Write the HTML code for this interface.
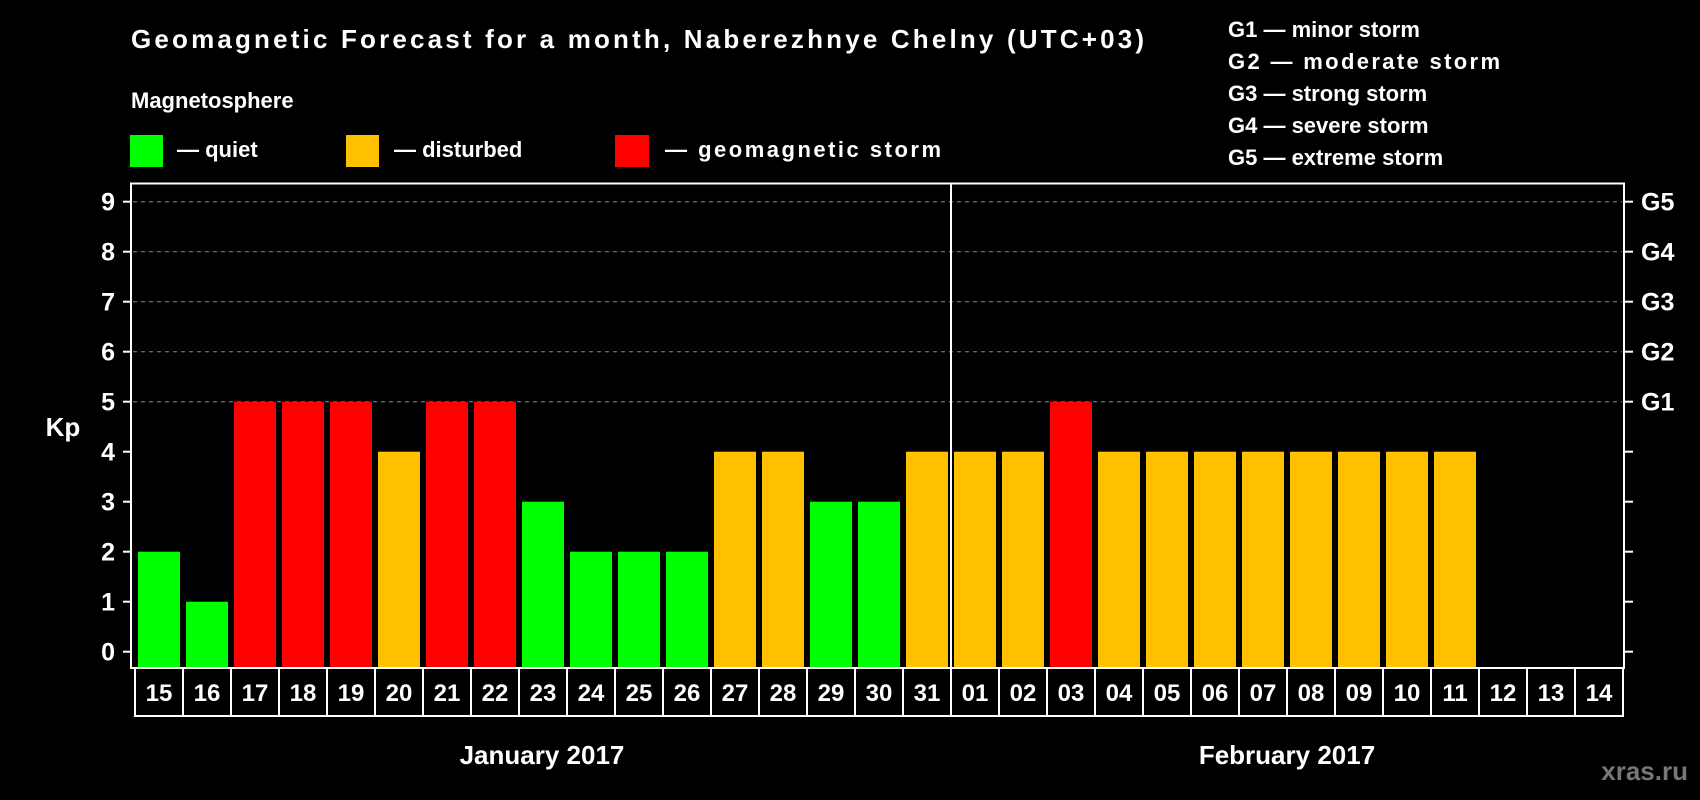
<!DOCTYPE html>
<html><head><meta charset="utf-8"><style>
html,body{margin:0;padding:0;background:#000;}
svg{display:block;font-family:"Liberation Sans",Arial,sans-serif;font-weight:bold;}
</style></head><body>
<svg id="chart" width="1700" height="800" viewBox="0 0 1700 800">
<rect x="0" y="0" width="1700" height="800" fill="#000"/>
<text x="131" y="48" fill="#fff" font-size="26" textLength="1013">Geomagnetic Forecast for a month, Naberezhnye Chelny (UTC+03)</text>
<text x="131" y="108" fill="#fff" font-size="22">Magnetosphere</text>
<g><rect x="130" y="135" width="33" height="32" fill="#00ff00"/><text x="177" y="157" fill="#fff" font-size="22">— quiet</text></g>
<g><rect x="346" y="135" width="33" height="32" fill="#ffc000"/><text x="394" y="157" fill="#fff" font-size="22">— disturbed</text></g>
<g><rect x="615" y="135" width="34" height="32" fill="#ff0000"/><text x="665" y="157" fill="#fff" font-size="22" textLength="276">— geomagnetic storm</text></g>
<g fill="#fff" font-size="22">
<text x="1228" y="37">G1 — minor storm</text>
<text x="1228" y="69" textLength="272">G2 — moderate storm</text>
<text x="1228" y="101">G3 — strong storm</text>
<text x="1228" y="133">G4 — severe storm</text>
<text x="1228" y="165">G5 — extreme storm</text>
</g>
<text x="63" y="436" fill="#fff" font-size="26" text-anchor="middle">Kp</text>
<g id="grid"></g>
<g id="bars"></g>
<rect x="131" y="183.5" width="1493" height="484.5" fill="none" stroke="#fff" stroke-width="2"/>
<line x1="951" y1="183.5" x2="951" y2="668" stroke="#fff" stroke-width="2"/>
<g id="axes"></g>
<g id="cells"></g>
<text x="542" y="764" fill="#fff" font-size="26" text-anchor="middle">January 2017</text>
<text x="1287" y="764" fill="#fff" font-size="26" text-anchor="middle">February 2017</text>
<text x="1688" y="780" fill="#777" font-size="26" text-anchor="end">xras.ru</text>
</svg>
<script>
const days = ["15","16","17","18","19","20","21","22","23","24","25","26","27","28","29","30","31","01","02","03","04","05","06","07","08","09","10","11","12","13","14"];
const kpValues = [2,1,5,5,5,4,5,5,3,2,2,2,4,4,3,3,4,4,4,5,4,4,4,4,4,4,4,4,null,null,null];
const yTicks = [0,1,2,3,4,5,6,7,8,9];
const gLabels = ["G1","G2","G3","G4","G5"];
const NS = "http://www.w3.org/2000/svg";
const x0 = 135, pitch = 48;
function xScale(i){ return x0 + i*pitch; }
function yScale(v){ return 651.7 - v*50; }
function mk(tag, attrs, parent){ const e=document.createElementNS(NS,tag); for(const k in attrs) e.setAttribute(k,attrs[k]); parent.appendChild(e); return e; }
function colorFor(v){ return v>=5 ? "#ff0000" : (v>=4 ? "#ffc000" : "#00ff00"); }
const grid=document.getElementById("grid"), bars=document.getElementById("bars"), axes=document.getElementById("axes"), cells=document.getElementById("cells");
yTicks.forEach(function(t){
  const y=yScale(t);
  if(t>=5){
    const g=mk("line",{x1:133,x2:1622,y1:y,y2:y,stroke:"#888","stroke-width":1,"stroke-dasharray":"4,4"},grid);
    
    
  }
  const lt=mk("line",{x1:123,x2:131,y1:y,y2:y,stroke:"#fff","stroke-width":2},axes);
  
  
  const rt=mk("line",{x1:1624,x2:1633,y1:y,y2:y,stroke:"#fff","stroke-width":2},axes);
  
  
  const lb=mk("text",{x:115,y:y+9,fill:"#fff","font-size":25,"text-anchor":"end"},axes);
  lb.textContent=t;
  
  
  if(t>=5){
    const gl=mk("text",{x:1641,y:y+9,fill:"#fff","font-size":25},axes);
    gl.textContent=gLabels[t-5];
    
    
  }
});
days.forEach(function(d,i){
  const x=xScale(i);
  const v=kpValues[i];
  if(v!==null && v!==undefined){
    const top=yScale(v);
    const b=mk("rect",{x:x+3,y:top,width:42,height:668-top,fill:colorFor(v)},bars);
    
    
  }
  const c=mk("rect",{x:x,y:668,width:pitch,height:48,fill:"none",stroke:"#fff","stroke-width":2},cells);
  
  
  const t=mk("text",{x:x+pitch/2,y:701,fill:"#fff","font-size":24,"text-anchor":"middle"},cells);
  t.textContent=d;
  
  
});
</script>
</body></html>
